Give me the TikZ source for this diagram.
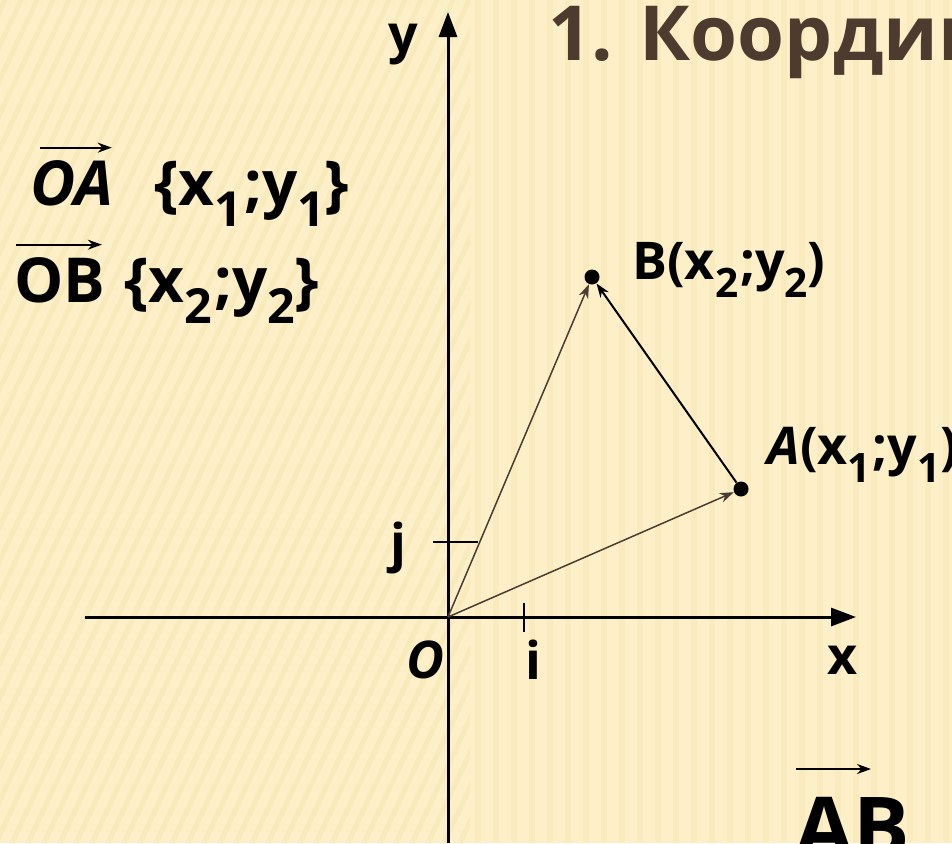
\documentclass[tikz,border=0pt]{standalone}
\usepackage{amsmath}
\usepackage{fontspec}
\setmainfont{Open Sans}
\usepackage{xcolor}
\definecolor{paper}{HTML}{FDF0C8}
\definecolor{streak}{HTML}{F3E0A6}
\definecolor{ink}{HTML}{000000}
\definecolor{vecc}{HTML}{4A3C34}
\definecolor{titlec}{HTML}{4E3B30}
\usepackage{tikz}
\usetikzlibrary{arrows.meta,positioning,calc}
\newcommand{\lowsub}[1]{\raisebox{-0.34em}{\scalebox{0.78}{#1}}}
\newcommand{\xy}[2]{x\lowsub{#1}\kern1pt;y\lowsub{#2}}
\tikzset{
  axis/.style={-{Triangle[length=12.5pt,width=9pt]},draw=ink,line width=1.5pt},
  vec/.style={-{Stealth[length=7pt,width=5pt]},draw=vecc,line width=0.75pt},
  vecab/.style={-{Stealth[length=7pt,width=5pt]},draw=ink,line width=1pt},
  tickl/.style={draw=ink,line width=0.8pt},
  dot/.style={circle,fill=ink,inner sep=0pt,minimum size=7.5pt},
  lab/.style={font=\fontsize{26}{28}\selectfont\bfseries,inner sep=0pt},
  coord/.style={font=\fontsize{31}{33}\selectfont\bfseries,inner sep=0pt},
}
\begin{document}
\begin{tikzpicture}[x=0.5pt,y=-0.5pt]
% background
\fill[paper] (0,0) rectangle (952,843);
\useasboundingbox (0,0) rectangle (952,843);
\clip (0,0) rectangle (952,843);
\begin{scope}
\clip (0,0) rectangle (470,843);
\foreach \s in {-420,-404,...,470}
  \draw[streak,line width=2.5pt,opacity=0.35] (\s,843) -- ++(393,-843);
\end{scope}
\foreach \s in {478,496,...,952}
  \draw[streak,line width=3pt,opacity=0.3] (\s,0) -- (\s,843);
% axes
\coordinate (O) at (448,617);
\coordinate (xmin) at (85,617);
\coordinate (xmax) at (856,617);
\coordinate (ymin) at (448,843);
\coordinate (ymax) at (448,12);
\draw[axis] (xmin) -- (xmax);
\draw[axis] (ymin) -- (ymax);
% unit ticks
\coordinate (ti) at (524,617);
\coordinate (tj) at (448,542);
\draw[tickl] (ti) ++(0,-14) -- ++(0,29);
\draw[tickl] (tj) ++(-15,0) -- ++(45,0);
% points and vectors
\node[dot] (A) at (741,489) {};
\node[dot] (B) at (592,277) {};
\draw[vec] (O) -- (A);
\draw[vec] (O) -- (B);
\draw[vecab] (A) -- (B);
% labels
\node[lab] (ylab) at (403,45) {y};
\node[lab] (xlab) at (843,660) {x};
\node[lab] (olab) at (425,660) {\itshape O};
\node[lab] (ilab) at (533,660) {i};
\node[lab] (jlab) at (398,548) {j};
\node[lab,anchor=west] (alab) at (767,455) {\textit{A}(\xy{1}{1})};
\node[lab,anchor=west] (blab) at (632,270) {B(\xy{2}{2})};
% vector coordinates
\node[coord,anchor=base west] (oa) at (30,205) {\itshape OA};
\node[coord,right=20pt of oa.base east,anchor=base west] (oaxy) {\{\xy{1}{1}\}};
\node[coord,anchor=base west] (ob) at (14,302) {OB};
\node[coord,right=9pt of ob.base east,anchor=base west] (obxy) {\{\xy{2}{2}\}};
\draw[vecab] ([xshift=5pt,yshift=6pt]oa.north west) -- ([xshift=-1pt,yshift=6pt]oa.north east);
\draw[vecab] ([xshift=1pt,yshift=6pt]ob.north west) -- ([xshift=-2pt,yshift=6pt]ob.north east);
% title and bottom vector
\node[font=\fontsize{38}{40}\selectfont\bfseries,text=titlec,anchor=base west,inner sep=0pt] (title) at (548,60) {1. Координаты};
\coordinate (abl) at (796,769);
\coordinate (abr) at (871,769);
\draw[vecab] (abl) -- (abr);
\node[font=\fontsize{42}{44}\selectfont\bfseries,anchor=base west,inner sep=0pt] (ab) at (795,857) {AB};
\end{tikzpicture}
\end{document}
